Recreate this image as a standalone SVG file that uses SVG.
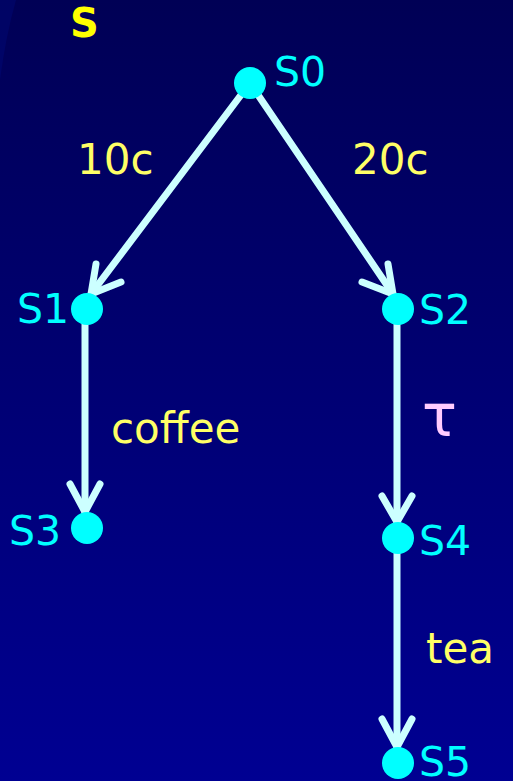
<svg xmlns="http://www.w3.org/2000/svg" width="513" height="781" viewBox="0 0 513 781">
  <defs>
    <linearGradient id="bg" x1="0" y1="0" x2="0" y2="1">
      <stop offset="0" stop-color="#000055"/>
      <stop offset="1" stop-color="#000092"/>
    </linearGradient>
    <style>
      .edge { fill: none; stroke: #ccffff; stroke-width: 7; stroke-linecap: round; stroke-linejoin: round; }
      .state { fill: #00ffff; }
      .name { fill: #00ffff; font-family: "Comic Sans MS", "DejaVu Sans", sans-serif; font-size: 41px; }
      .act { fill: #ffff66; font-family: "Comic Sans MS", "DejaVu Sans", sans-serif; font-size: 42px; }
      .tau { fill: #ffccff; font-family: "Comic Sans MS", "DejaVu Sans", sans-serif; font-size: 58px; }
      .title { fill: #ffff00; font-family: "Comic Sans MS", "DejaVu Sans", sans-serif; font-size: 40px; font-weight: bold; }
    </style>
  </defs>

  <!-- background -->
  <rect width="513" height="781" fill="url(#bg)"/>
  <path d="M0 0 H16 Q6 35 0 80 Z" fill="#000878" opacity="0.45"/>

  <text class="title" x="70" y="37">S</text>

  <!-- transitions -->
  <g id="edges">
    <g id="e-s0-s1">
      <line class="edge" x1="250" y1="83" x2="91" y2="294"/>
      <polyline class="edge" points="96,264 91,294 121,282"/>
    </g>
    <g id="e-s0-s2">
      <line class="edge" x1="250" y1="83" x2="393" y2="294"/>
      <polyline class="edge" points="388,264 393,294 362,282"/>
    </g>
    <g id="e-s1-s3">
      <line class="edge" x1="85" y1="309" x2="85" y2="512"/>
      <polyline class="edge" points="70,484 85,512 100,484"/>
    </g>
    <g id="e-s2-s4">
      <line class="edge" x1="397" y1="309" x2="397" y2="522"/>
      <polyline class="edge" points="382,496 397,522 412,496"/>
    </g>
    <g id="e-s4-s5">
      <line class="edge" x1="397" y1="538" x2="397" y2="747"/>
      <polyline class="edge" points="382,719 397,747 412,719"/>
    </g>
  </g>

  <!-- transition labels -->
  <g id="labels">
    <text class="act" x="77" y="174">10c</text>
    <text class="act" x="352" y="174">20c</text>
    <text class="act" x="111" y="443">coffee</text>
    <text class="tau" x="422" y="436">τ</text>
    <text class="act" x="426" y="663">tea</text>
  </g>

  <!-- states -->
  <g id="s0">
    <circle class="state" cx="250" cy="83" r="16"/>
    <text class="name" x="274" y="86">S0</text>
  </g>
  <g id="s1">
    <circle class="state" cx="87" cy="309" r="16"/>
    <text class="name" x="17" y="323">S1</text>
  </g>
  <g id="s2">
    <circle class="state" cx="398" cy="309" r="16"/>
    <text class="name" x="419" y="324">S2</text>
  </g>
  <g id="s3">
    <circle class="state" cx="87" cy="528" r="16"/>
    <text class="name" x="9" y="545">S3</text>
  </g>
  <g id="s4">
    <circle class="state" cx="398" cy="538" r="16"/>
    <text class="name" x="419" y="555">S4</text>
  </g>
  <g id="s5">
    <circle class="state" cx="398" cy="763" r="16"/>
    <text class="name" x="419" y="776">S5</text>
  </g>
</svg>
